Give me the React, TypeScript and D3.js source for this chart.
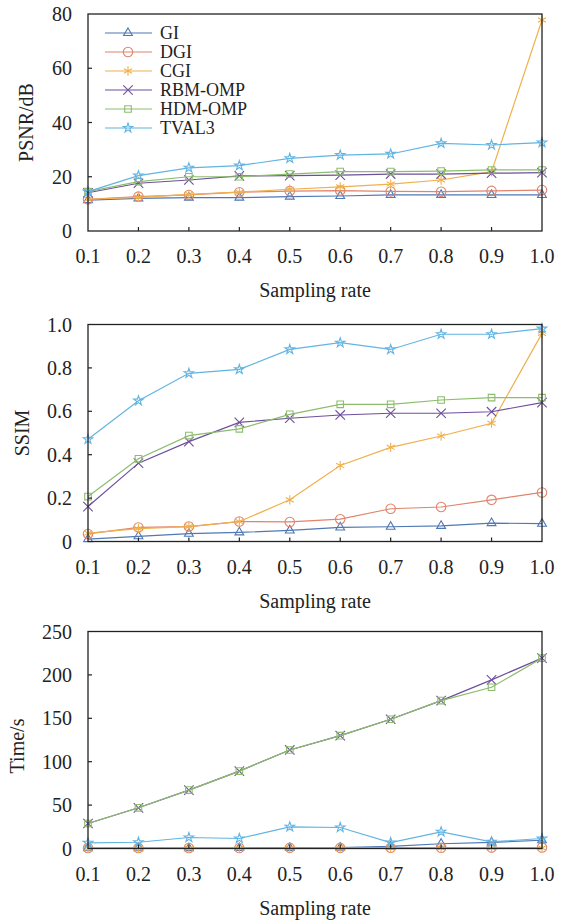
import React from "react";
import * as d3 from "d3";

const rates = [0.1, 0.2, 0.3, 0.4, 0.5, 0.6, 0.7, 0.8, 0.9, 1.0];
const methods = ["GI", "DGI", "CGI", "RBM-OMP", "HDM-OMP", "TVAL3"];
const colors = ["#4f78b4", "#e0846c", "#f0b04c", "#6e4f9c", "#8cbd6c", "#62b4e2"];

const psnrGI = [11.4, 12.0, 12.3, 12.3, 12.7, 12.9, 13.3, 13.3, 13.3, 13.3];
const psnrDGI = [11.7, 12.7, 13.3, 14.3, 14.7, 14.9, 14.6, 14.5, 14.8, 15.1];
const psnrCGI = [11.7, 12.4, 13.5, 14.3, 15.4, 16.3, 17.3, 18.8, 21.9, 77.8];
const psnrRBM = [14.1, 17.6, 18.8, 20.3, 20.4, 20.6, 21.0, 21.0, 21.3, 21.5];
const psnrHDM = [14.5, 18.2, 20.0, 20.0, 21.0, 21.9, 21.9, 22.1, 22.5, 22.5];
const psnrTVAL3 = [14.5, 20.4, 23.3, 24.1, 26.8, 28.0, 28.4, 32.3, 31.7, 32.6];

const ssimGI = [0.011, 0.024, 0.036, 0.042, 0.051, 0.065, 0.068, 0.072, 0.085, 0.082];
const ssimDGI = [0.035, 0.065, 0.069, 0.092, 0.09, 0.103, 0.151, 0.159, 0.192, 0.226];
const ssimCGI = [0.039, 0.059, 0.069, 0.092, 0.192, 0.35, 0.434, 0.486, 0.545, 0.959];
const ssimRBM = [0.161, 0.361, 0.46, 0.549, 0.568, 0.583, 0.591, 0.591, 0.598, 0.64];
const ssimHDM = [0.207, 0.381, 0.488, 0.519, 0.586, 0.632, 0.632, 0.652, 0.663, 0.663];
const ssimTVAL3 = [0.471, 0.649, 0.775, 0.793, 0.885, 0.916, 0.885, 0.955, 0.955, 0.981];

const timeGI = [0.3, 0.4, 0.5, 0.6, 0.8, 1.0, 2.5, 5.5, 7, 9.5];
const timeDGI = [0.5, 0.5, 0.6, 0.6, 0.7, 0.7, 0.8, 0.9, 1.0, 1.1];
const timeCGI = [0.2, 0.2, 0.3, 0.3, 0.3, 0.4, 0.4, 0.5, 0.5, 0.6];
const timeRBM = [28.8, 46.9, 67.3, 89.2, 113.5, 130.0, 148.9, 170.4, 194.3, 219.3];
const timeHDM = [28.8, 46.9, 67.3, 89.2, 113.5, 130.0, 148.9, 170.4, 185.8, 219.3];
const timeTVAL3 = [6.5, 7.2, 12.7, 11.5, 25.0, 24.2, 6.9, 19.2, 7.7, 11.5];

const xTicks = [0.1, 0.2, 0.3, 0.4, 0.5, 0.6, 0.7, 0.8, 0.9, 1.0];
const psnrTicks = [0, 20, 40, 60, 80];
const ssimTicks = [0, 0.2, 0.4, 0.6, 0.8, 1.0];
const timeTicks = [0, 50, 100, 150, 200, 250];

const symbols = [d3.symbolTriangle2, d3.symbolCircle, d3.symbolAsterisk, d3.symbolTimes, d3.symbolSquare2, d3.symbolStar];
const symbolSizes = [55, 70, 60, 60, 55, 28];

const FONT = "'Liberation Serif', serif";

type PanelProps = {
  top: number;
  series: number[][];
  yMax: number;
  yTicks: number[];
  yFmt: (v: number) => string;
  yLabel: string;
  yLabelX: number;
  yLabelDy?: number;
  legend?: boolean;
};

const L = 88, R = 542, H = 217;

function Panel({ top, series, yMax, yTicks, yFmt, yLabel, yLabelX, yLabelDy = 0, legend }: PanelProps) {
  const x = d3.scaleLinear().domain([0.1, 1.0]).range([L, R]);
  const y = d3.scaleLinear().domain([0, yMax]).range([top + H, top]);
  const line = d3.line<number>().x((_, i) => x(rates[i])).y((d) => y(d));
  const order = [0, 1, 2, 3, 4, 5];
  return (
    <g>
      <defs>
        <clipPath id={`clip${Math.round(top)}`}>
          <rect x={L - 8} y={top - 8} width={R - L + 16} height={H + 16} />
        </clipPath>
      </defs>
      <g clipPath={`url(#clip${Math.round(top)})`}>
        {order.map((k) => (
          <g key={k}>
            <path d={line(series[k]) || ""} fill="none" stroke={colors[k]} strokeWidth={1.2} />
            {series[k].map((v, i) => (
              <path
                key={i}
                transform={`translate(${x(rates[i])},${y(v)})`}
                d={d3.symbol(symbols[k], symbolSizes[k])() || ""}
                fill="none"
                stroke={colors[k]}
                strokeWidth={1.1}
              />
            ))}
          </g>
        ))}
      </g>
      <rect x={L} y={top} width={R - L} height={H} fill="none" stroke="#222" strokeWidth={1.3} />
      {xTicks.map((t, i) => (
        <g key={i}>
          {i > 0 && i < xTicks.length - 1 && (
            <line x1={x(t)} x2={x(t)} y1={top + H} y2={top + H - 4} stroke="#222" strokeWidth={1.2} />
          )}
          <text x={x(t)} y={top + H + 32} textAnchor="middle" fontFamily={FONT} fontSize={20} fill="#222">
            {t.toFixed(1)}
          </text>
        </g>
      ))}
      {yTicks.map((t, i) => (
        <g key={i}>
          {i > 0 && i < yTicks.length - 1 && (
            <line x1={L} x2={L + 4} y1={y(t)} y2={y(t)} stroke="#222" strokeWidth={1.2} />
          )}
          <text x={72} y={y(t) + 7} textAnchor="end" fontFamily={FONT} fontSize={20} fill="#222">
            {yFmt(t)}
          </text>
        </g>
      ))}
      <text
        transform={`translate(${yLabelX},${top + H / 2 + yLabelDy}) rotate(-90)`}
        textAnchor="middle"
        dominantBaseline="central"
        fontFamily={FONT}
        fontSize={20}
        fill="#222"
      >
        {yLabel}
      </text>
      <text x={315} y={top + H + 66} textAnchor="middle" fontFamily={FONT} fontSize={20} fill="#222">
        Sampling rate
      </text>
      {legend && (
        <g>
          {methods.map((m, k) => {
            const ly = top + 19 + k * 19;
            return (
              <g key={m}>
                <line x1={105} x2={152} y1={ly} y2={ly} stroke={colors[k]} strokeWidth={1.2} />
                <path
                  transform={`translate(128,${ly})`}
                  d={d3.symbol(symbols[k], symbolSizes[k])() || ""}
                  fill="none"
                  stroke={colors[k]}
                  strokeWidth={1.1}
                />
                <text x={160} y={ly + 6} fontFamily={FONT} fontSize={18} fill="#222">
                  {m}
                </text>
              </g>
            );
          })}
        </g>
      )}
    </g>
  );
}

export default function App() {
  return (
    <div style={{ position: "absolute", left: 0, top: 0 }}>
      <svg width={566} height={922} style={{ display: "block", background: "#fff" }}>
        <Panel
          top={14}
          series={[psnrGI, psnrDGI, psnrCGI, psnrRBM, psnrHDM, psnrTVAL3]}
          yMax={80}
          yTicks={psnrTicks}
          yFmt={(v) => String(v)}
          yLabel="PSNR/dB"
          yLabelX={26}
          legend
        />
        <Panel
          top={324.5}
          series={[ssimGI, ssimDGI, ssimCGI, ssimRBM, ssimHDM, ssimTVAL3]}
          yMax={1}
          yTicks={ssimTicks}
          yFmt={(v) => (v === 0 ? "0" : v.toFixed(1))}
          yLabel="SSIM"
          yLabelX={22}
        />
        <Panel
          top={631.5}
          series={[timeGI, timeDGI, timeCGI, timeRBM, timeHDM, timeTVAL3]}
          yMax={250}
          yTicks={timeTicks}
          yFmt={(v) => String(v)}
          yLabel="Time/s"
          yLabelX={17}
          yLabelDy={6}
        />
      </svg>
    </div>
  );
}
